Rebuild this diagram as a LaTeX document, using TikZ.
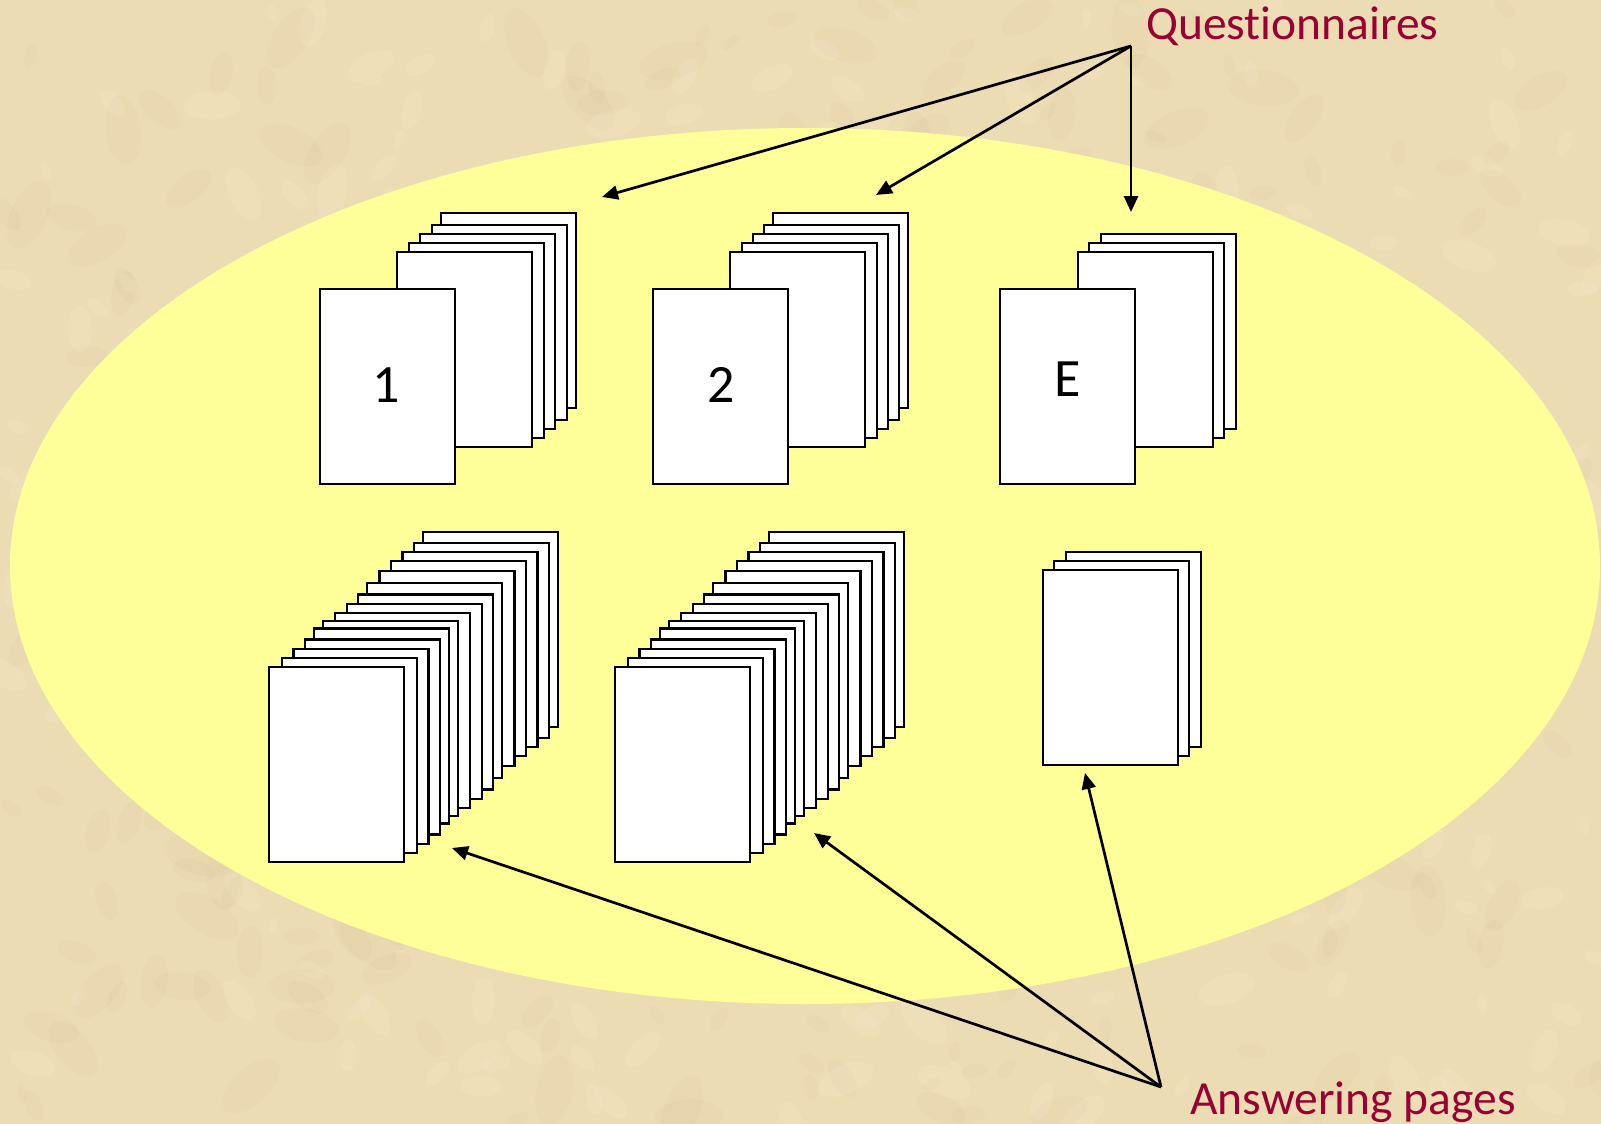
\documentclass[tikz,border=0pt]{standalone}
\usepackage{fontspec}
\setmainfont{Carlito}[RawFeature={-liga;-clig;-dlig}]
\usetikzlibrary{arrows.meta}
\definecolor{parch}{RGB}{236,220,180}
\definecolor{parchdark}{RGB}{205,180,130}
\definecolor{parchlight}{RGB}{248,238,212}
\definecolor{lyellow}{RGB}{255,255,153}
\definecolor{labred}{RGB}{153,0,51}
\tikzset{
  page/.style={rectangle, draw=black, fill=white, line width=2.2pt, inner sep=0pt,
    minimum width=135pt, minimum height=195pt, anchor=north west},
  lbl/.style={text=labred, font=\fontsize{47.5}{57}\selectfont, inner sep=0pt, anchor=base west},
  num/.style={font=\fontsize{54}{64}\selectfont, inner sep=0pt, anchor=base},
  arr/.style={line width=2.7pt, -{Triangle[length=16pt,width=14pt]}}
}
\begin{document}
\begin{tikzpicture}[x=1pt,y=-1pt]
% background
\fill[parch] (0,0) rectangle (1601,1124);
\useasboundingbox (0,0) rectangle (1601,1124);
\begin{scope}
\clip (0,0) rectangle (1601,1124);
\pgfmathsetseed{7}
\foreach \k in {1,...,320}{
  \pgfmathsetmacro{\px}{rnd*1601}
  \pgfmathsetmacro{\py}{rnd*1124}
  \pgfmathsetmacro{\rr}{10+rnd*28}
  \pgfmathsetmacro{\ang}{rnd*180}
  \fill[parchdark, opacity=0.08, rotate around={\ang:(\px,\py)}] (\px,\py) ellipse ({\rr} and {0.5*\rr});
}
\foreach \k in {1,...,260}{
  \pgfmathsetmacro{\px}{rnd*1601}
  \pgfmathsetmacro{\py}{rnd*1124}
  \pgfmathsetmacro{\rr}{8+rnd*22}
  \pgfmathsetmacro{\ang}{rnd*180}
  \fill[parchlight, opacity=0.18, rotate around={\ang:(\px,\py)}] (\px,\py) ellipse ({\rr} and {0.5*\rr});
}
\end{scope}
% yellow ellipse
\fill[lyellow] (805,566) ellipse (795 and 438);

% ---- Questionnaire stacks ----
% stack 1
\foreach \x/\y [count=\i] in {440/212,431/224,419/233,408/242,396/251}
  \node[page] (qa\i) at (\x,\y) {};
\node[page] (qaf) at (319,288) {};
\node[num] (qan) at (386,402) {1};
% stack 2
\foreach \x/\y [count=\i] in {772/212,763/224,752/233,741/242,729/251}
  \node[page] (qb\i) at (\x,\y) {};
\node[page] (qbf) at (652,288) {};
\node[num] (qbn) at (721,402) {2};
% stack E
\foreach \x/\y [count=\i] in {1100/233,1088/242,1077/251}
  \node[page] (qe\i) at (\x,\y) {};
\node[page] (qef) at (999,288) {};
\node[num] (qen) at (1068,396) {E};

% ---- Answering stacks ----
\foreach \x/\y [count=\i] in {421.7/530.7,412.7/541.7,401.3/550.7,390/560,378.3/570,366/581.7,356.7/593.3,345.7/602.7,334/611.7,321.7/620,312.7/627.3,304/638.3,292.3/647.7,280.7/656.7}
  \node[page] (aa\i) at (\x,\y) {};
\node[page] (aaf) at (268,666) {};
\foreach \x/\y [count=\i] in {421.7/530.7,412.7/541.7,401.3/550.7,390/560,378.3/570,366/581.7,356.7/593.3,345.7/602.7,334/611.7,321.7/620,312.7/627.3,304/638.3,292.3/647.7,280.7/656.7}
  \node[page] (ab\i) at (\x+346,\y) {};
\node[page] (abf) at (614,666) {};
\foreach \x/\y [count=\i] in {1065/551,1053/560}
  \node[page] (ae\i) at (\x,\y) {};
\node[page] (aef) at (1042,569) {};

% ---- labels ----
\node[lbl] (qlab) at (1146,40) {Quest\kern0pt ionnaires};
\node[lbl] (alab) at (1190,1114) {Answering pages};

\coordinate (qsrc) at (1131,46);
\coordinate (asrc) at (1161,1087);
\coordinate (qt1) at (602,197);
\coordinate (qt2) at (876,195);
\coordinate (qt3) at (1131,212);
\coordinate (at1) at (452,848);
\coordinate (at2) at (814,833);
\coordinate (at3) at (1085,773);

\draw[arr] (qsrc) -- (qt1);
\draw[arr] (qsrc) -- (qt2);
\draw[arr] (qsrc) -- (qt3);
\draw[arr] (asrc) -- (at1);
\draw[arr] (asrc) -- (at2);
\draw[arr] (asrc) -- (at3);
\end{tikzpicture}
\end{document}
